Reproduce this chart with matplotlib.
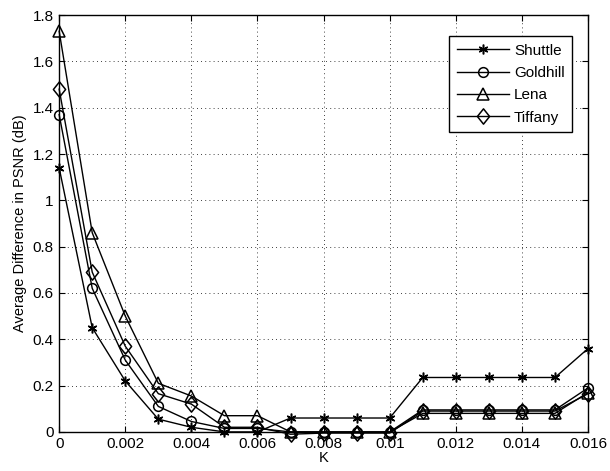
import matplotlib
matplotlib.use("Agg")
import matplotlib.pyplot as plt
from matplotlib.path import Path

plt.rcParams["font.family"] = ["Liberation Sans", "DejaVu Sans"]

k_values = [0.000, 0.001, 0.002, 0.003, 0.004, 0.005, 0.006, 0.007, 0.008,
            0.009, 0.010, 0.011, 0.012, 0.013, 0.014, 0.015, 0.016]
shuttle = [1.14, 0.45, 0.22, 0.055, 0.02, 0.0, 0.0, 0.06, 0.06,
           0.06, 0.06, 0.235, 0.235, 0.235, 0.235, 0.235, 0.36]
goldhill = [1.37, 0.62, 0.31, 0.11, 0.045, 0.015, 0.015, 0.0, 0.0,
            0.0, 0.0, 0.095, 0.095, 0.095, 0.095, 0.095, 0.19]
lena = [1.73, 0.86, 0.50, 0.21, 0.155, 0.07, 0.07, 0.0, 0.0,
        0.0, 0.0, 0.08, 0.08, 0.08, 0.08, 0.08, 0.17]
tiffany = [1.48, 0.69, 0.37, 0.165, 0.12, 0.02, 0.02, -0.01, -0.005,
           -0.005, -0.005, 0.09, 0.09, 0.09, 0.09, 0.09, 0.165]

# MATLAB-style diamond: slightly taller than wide
diamond = Path([(0, 1), (0.8, 0), (0, -1), (-0.8, 0), (0, 1)],
               [Path.MOVETO, Path.LINETO, Path.LINETO, Path.LINETO, Path.CLOSEPOLY])

series = [("Shuttle", shuttle, (6, 2, 0), 7), ("Goldhill", goldhill, "o", 7),
          ("Lena", lena, "^", 8.5), ("Tiffany", tiffany, diamond, 11)]
x_ticks = [0, 0.002, 0.004, 0.006, 0.008, 0.01, 0.012, 0.014, 0.016]
x_tick_labels = ["0", "0.002", "0.004", "0.006", "0.008", "0.01", "0.012", "0.014", "0.016"]
y_ticks = [0, 0.2, 0.4, 0.6, 0.8, 1, 1.2, 1.4, 1.6, 1.8]
y_tick_labels = ["0", "0.2", "0.4", "0.6", "0.8", "1", "1.2", "1.4", "1.6", "1.8"]

fig = plt.figure(figsize=(6.1, 4.71), dpi=100)
ax = fig.add_axes([0.097, 0.083, 0.867, 0.885])

for name, values, marker, size in series:
    ax.plot(k_values, values, "-", color="black", linewidth=1.0, marker=marker,
            markersize=size, markerfacecolor="none", markeredgecolor="black",
            markeredgewidth=1.1, label=name, clip_on=False, zorder=3)

ax.set_xlim(0, 0.016)
ax.set_ylim(0, 1.8)
ax.set_xticks(x_ticks)
ax.set_xticklabels(x_tick_labels)
ax.set_yticks(y_ticks)
ax.set_yticklabels(y_tick_labels)
ax.tick_params(direction="in", top=True, right=True, labelsize=11, length=4, pad=4)
ax.grid(True, linestyle=(0, (1, 4)), color="black", linewidth=0.6)
for spine in ax.spines.values():
    spine.set_linewidth(1.0)

ax.set_xlabel("K", fontsize=10.5, labelpad=0)
ax.set_ylabel("Average Difference in PSNR (dB)", fontsize=10.5, labelpad=4)

leg = ax.legend(loc="upper right", bbox_to_anchor=(0.97, 0.95), fancybox=False,
                edgecolor="black", framealpha=1, fontsize=11, handlelength=3.4,
                borderpad=0.5, labelspacing=0.55, handletextpad=0.35,
                borderaxespad=0)
leg.get_frame().set_linewidth(1.0)

fig.savefig("out.png", dpi=100)
